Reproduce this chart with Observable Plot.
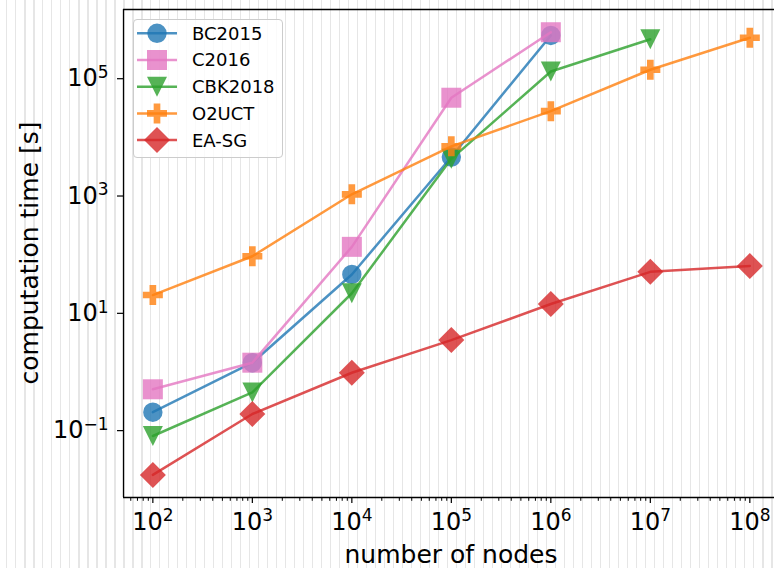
<!DOCTYPE html>
<html><head><meta charset="utf-8">
<script src="https://cdn.jsdelivr.net/npm/d3@7"></script>
<script src="https://cdn.jsdelivr.net/npm/@observablehq/plot@0.6"></script>
<style>
body{margin:0;background:#fff;}
#wrap{position:relative;width:774px;height:568px;overflow:hidden;background-color:#fff;
background-image:repeating-linear-gradient(to right, transparent 0px, transparent 6px, #e6e6e6 6px, #e6e6e6 7.5px, transparent 7.5px, transparent 9px);
font-family:"DejaVu Sans",sans-serif;}
#wrap svg.main{position:absolute;left:0;top:0;}
#legend{position:absolute;left:133px;top:19px;width:148px;height:137px;border:1px solid #cccccc;border-radius:4px;background:rgba(255,255,255,0.8);z-index:2;}
</style></head><body><div id="wrap"><div id="legend"></div></div>
<script>
// ---- data ----
const nodes = [1e2, 1e3, 1e4, 1e5, 1e6, 1e7, 1e8];
const seriesNames = ["BC2015", "C2016", "CBK2018", "O2UCT", "EA-SG"];
const bc2015 = [0.206, 1.44, 46, 4620, 5.47e5];
const c2016 = [0.507, 1.44, 136, 4.74e4, 6.2e5];
const cbk2018 = [0.081, 0.448, 22, 4300, 1.33e5, 4.7e5];
const o2uct = [20.5, 94, 1070, 7030, 2.8e4, 1.42e5, 5.0e5];
const easg = [0.0176, 0.192, 0.97, 3.5, 14.4, 51, 64];
const xTickExponents = [2, 3, 4, 5, 6, 7, 8];
const yTickExponents = [-1, 1, 3, 5];
const xLabel = "number of nodes";
const yLabel = "computation time [s]";

// ---- styles ----
const colors = ["#1f77b4", "#e377c2", "#2ca02c", "#ff7f0e", "#d62728"];
const seriesValues = [bc2015, c2016, cbk2018, o2uct, easg];

function sym(drawFn) { return {draw(ctx, size) { drawFn(ctx, Math.sqrt(size / Math.PI)); }}; }
const symbols = [
  sym((c, r) => { const a = r * 0.97; c.moveTo(a, 0); c.arc(0, 0, a, 0, 2 * Math.PI); c.closePath(); }),
  sym((c, r) => { const a = r; c.moveTo(-a, -a); c.lineTo(a, -a); c.lineTo(a, a); c.lineTo(-a, a); c.closePath(); }),
  sym((c, r) => { const a = r; c.moveTo(-a, -a); c.lineTo(a, -a); c.lineTo(0, a); c.closePath(); }),
  sym((c, r) => { const a = r, b = r / 3; const p = [[-b,-a],[b,-a],[b,-b],[a,-b],[a,b],[b,b],[b,a],[-b,a],[-b,b],[-a,b],[-a,-b],[-b,-b]];
    c.moveTo(p[0][0], p[0][1]); for (let k = 1; k < p.length; k++) c.lineTo(p[k][0], p[k][1]); c.closePath(); }),
  sym((c, r) => { const a = r * 1.3; c.moveTo(0, -a); c.lineTo(a, 0); c.lineTo(0, a); c.lineTo(-a, 0); c.closePath(); })
];

const rows = seriesNames.map((name, s) => seriesValues[s].map((v, i) => ({series: name, nodes: nodes[i], time: v})));

const xDomain = [Math.pow(10, 1.705), Math.pow(10, 8.248)];
const yDomain = [Math.pow(10, -2.14), Math.pow(10, 6.18)];

const minorX = [];
for (let e = 1; e <= 8; e++) for (let m = 2; m <= 9; m++) { const v = m * Math.pow(10, e); if (v > xDomain[0] && v < xDomain[1]) minorX.push(v); }

const expFmt = d => { const e = Math.round(Math.log10(d)); return "10^" + (e < 0 ? "\u2212" + (-e) : String(e)); };

const marks = [
  Plot.ruleX([xDomain[0]], {stroke: "black", strokeWidth: 1.3}),
  Plot.ruleY([yDomain[0]], {stroke: "black", strokeWidth: 1.3}),
  Plot.ruleY([yDomain[1]], {stroke: "black", strokeWidth: 1.3})
];
seriesNames.forEach((name, s) => {
  marks.push(Plot.line(rows[s], {x: "nodes", y: "time", stroke: colors[s], strokeWidth: 2.5, strokeOpacity: 0.8}));
  marks.push(Plot.dot(rows[s], {x: "nodes", y: "time", r: 10, symbol: symbols[s], fill: colors[s], fillOpacity: 0.8, stroke: "none"}));
});
marks.push(
  Plot.axisX(minorX, {tickSize: 3.8, tickFormat: () => "", stroke: "black", strokeWidth: 1, label: null}),
  Plot.axisX(xTickExponents.map(e => Math.pow(10, e)), {tickSize: 6, tickPadding: 9, tickFormat: expFmt, fontSize: 24, stroke: "black", strokeWidth: 1.2, label: null}),
  Plot.axisY(yTickExponents.map(e => Math.pow(10, e)), {tickSize: 6, tickPadding: 9, tickFormat: expFmt, fontSize: 24, stroke: "black", strokeWidth: 1.2, label: null})
);

const chart = Plot.plot({
  width: 774, height: 568,
  marginLeft: 123, marginRight: 0, marginTop: 9, marginBottom: 71,
  x: {type: "log", domain: xDomain},
  y: {type: "log", domain: yDomain},
  style: {background: "transparent", fontFamily: "DejaVu Sans, sans-serif", color: "black", overflow: "visible"},
  marks
});
chart.classList.add("main");
const wrap = document.getElementById("wrap");
wrap.insertBefore(chart, wrap.firstChild);

// superscript tick labels
chart.querySelectorAll('g[aria-label="x-axis tick label"] text, g[aria-label="y-axis tick label"] text').forEach(t => {
  const s = t.textContent;
  if (!s.includes("^")) return;
  const [base, exp] = s.split("^");
  t.textContent = "";
  t.appendChild(document.createTextNode(base));
  const ts = document.createElementNS("http://www.w3.org/2000/svg", "tspan");
  ts.setAttribute("dy", "-8.5");
  ts.setAttribute("font-size", "17");
  ts.textContent = exp;
  t.appendChild(ts);
});

// axis labels
const svg = d3.select(chart);
svg.append("text").attr("x", 451).attr("y", 562.5).attr("text-anchor", "middle")
  .attr("font-size", 25).attr("fill", "black").text(xLabel);
svg.append("text").attr("transform", "translate(38,253) rotate(-90)").attr("text-anchor", "middle")
  .attr("font-size", 25).attr("fill", "black").text(yLabel);

// legend
const lg = d3.select("#legend").append("svg").attr("width", 148).attr("height", 137).style("overflow", "visible");
seriesNames.forEach((name, s) => {
  const y = 13.3 + 26.7 * s;
  lg.append("line").attr("x1", 3).attr("x2", 43).attr("y1", y).attr("y2", y)
    .attr("stroke", colors[s]).attr("stroke-width", 2.5).attr("stroke-opacity", 0.8);
  lg.append("path").attr("transform", `translate(23,${y})`)
    .attr("d", d3.symbol(symbols[s], Math.PI * 100)())
    .attr("fill", colors[s]).attr("fill-opacity", 0.8);
  lg.append("text").attr("x", 58).attr("y", y).attr("dy", "0.36em")
    .attr("font-size", 18).attr("fill", "black").text(name);
});
</script></body></html>
